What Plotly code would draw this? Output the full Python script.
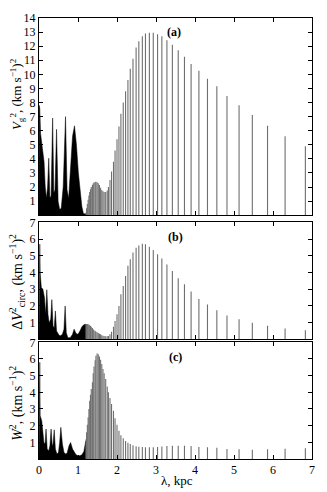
import plotly.graph_objects as go

# wavelengths of the resolved spectral lines, kpc (long to short)
lam_lines = [6.83, 6.31, 5.86, 5.47, 5.13, 4.82, 4.56, 4.32, 4.10, 3.90,
             3.73, 3.57, 3.42, 3.28, 3.15, 3.04, 2.93, 2.83, 2.73, 2.65,
             2.56, 2.49, 2.41, 2.34, 2.28, 2.22, 2.16, 2.10, 2.05, 2.00,
             1.95, 1.91, 1.86, 1.82, 1.78, 1.75, 1.71, 1.67, 1.64, 1.61,
             1.58, 1.55, 1.52, 1.49, 1.46, 1.44, 1.41, 1.39, 1.37, 1.34,
             1.32, 1.30, 1.28, 1.26, 1.24, 1.22, 1.21]

# (a) Vg^2
vg2 = [4.89, 5.61, 6.36, 7.11, 7.81, 8.46, 9.15, 9.69, 10.25, 10.74,
       11.25, 11.72, 12.11, 12.42, 12.70, 12.85, 12.95, 12.95, 12.90, 12.70,
       12.35, 11.90, 11.10, 10.40, 9.60, 8.80, 8.00, 7.20, 6.30, 5.40,
       4.60, 3.80, 3.10, 2.50, 2.00, 1.75, 1.65, 1.65, 1.70, 1.80,
       1.95, 2.15, 2.28, 2.35, 2.38, 2.36, 2.32, 2.25, 2.15, 2.00,
       1.85, 1.65, 1.40, 1.10, 0.80, 0.50, 0.20]
# (b) dV_circ^2
dvc2 = [0.55, 0.65, 0.81, 1.00, 1.20, 1.43, 1.75, 2.08, 2.42, 2.87,
        3.30, 3.66, 4.09, 4.48, 4.84, 5.10, 5.35, 5.55, 5.70, 5.72,
        5.62, 5.48, 5.20, 4.80, 4.40, 3.80, 3.20, 2.70, 2.00, 1.50,
        1.10, 0.75, 0.45, 0.30, 0.20, 0.18, 0.18, 0.20, 0.22, 0.25,
        0.30, 0.33, 0.38, 0.42, 0.45, 0.50, 0.55, 0.60, 0.68, 0.75,
        0.80, 0.85, 0.88, 0.90, 0.92, 0.92, 0.90]
# (c) W^2
w2 = [0.65, 0.62, 0.58, 0.55, 0.58, 0.60, 0.68, 0.70, 0.72, 0.78,
      0.80, 0.80, 0.80, 0.78, 0.75, 0.72, 0.70, 0.70, 0.70, 0.72,
      0.74, 0.76, 0.82, 0.90, 0.98, 1.08, 1.25, 1.42, 1.70, 2.05,
      2.45, 2.90, 3.30, 3.66, 4.00, 4.35, 4.80, 5.15, 5.40, 5.70,
      5.95, 6.15, 6.28, 6.33, 6.20, 5.93, 5.55, 5.15, 4.60, 4.20,
      3.85, 3.50, 3.00, 2.50, 2.05, 1.60, 1.20]

# unresolved short-wavelength part: upper envelope of the dense lines
lam_dense_a = [0, 0.005, 0.02, 0.04, 0.07, 0.10, 0.13, 0.16, 0.19, 0.22, 0.25, 0.28,
               0.31, 0.35, 0.38, 0.41, 0.45, 0.49, 0.53, 0.57, 0.62, 0.68, 0.72,
               0.76, 0.80, 0.86, 0.91, 0.96, 1.01, 1.06, 1.10, 1.14, 1.20, 1.20]
vg2_dense = [0, 7.8, 7.6, 5.8, 5.0, 4.6, 3.8, 2.0, 1.2, 2.0, 4.05, 1.2,
             1.4, 6.9, 1.6, 1.8, 6.1, 1.0, 0.4, 0.5, 2.0, 7.0, 1.8,
             1.2, 3.0, 5.6, 6.35, 5.0, 3.0, 1.5, 0.6, 0.1, 0.1, 0]

lam_dense_b = [0, 0.005, 0.02, 0.03, 0.06, 0.10, 0.14, 0.17, 0.20, 0.23, 0.26, 0.30,
               0.33, 0.36, 0.39, 0.42, 0.45, 0.50, 0.54, 0.60, 0.64, 0.67, 0.70,
               0.74, 0.80, 0.86, 0.90, 0.95, 1.00, 1.05, 1.10, 1.15, 1.20, 1.20]
dvc2_dense = [0, 5.7, 5.7, 4.0, 3.1, 3.0, 2.5, 1.5, 2.97, 1.5, 1.0, 1.2,
              2.38, 0.8, 0.7, 1.7, 0.5, 0.3, 0.2, 0.3, 0.6, 2.0, 0.4,
              0.1, 0.1, 0.3, 0.61, 0.35, 0.3, 0.5, 0.75, 0.88, 0.9, 0]

lam_dense_c = [0, 0.005, 0.02, 0.03, 0.07, 0.10, 0.13, 0.16, 0.18, 0.21, 0.25, 0.28,
               0.31, 0.34, 0.36, 0.39, 0.42, 0.46, 0.50, 0.53, 0.56, 0.60, 0.64,
               0.68, 0.72, 0.77, 0.81, 0.86, 0.90, 0.95, 1.00, 1.05, 1.10, 1.15,
               1.20, 1.20]
w2_dense = [0, 5.8, 5.8, 2.6, 2.3, 1.6, 0.9, 1.0, 1.8, 0.6, 0.5, 0.8,
            1.8, 0.8, 0.9, 1.75, 0.6, 0.3, 0.4, 1.0, 1.9, 0.9, 0.4,
            0.3, 0.35, 0.8, 0.99, 0.6, 0.4, 0.25, 0.2, 0.2, 0.25, 0.45,
            1.1, 0]

SERIF = "Liberation Serif"


def sticks(lams, vals):
    xs, ys = [], []
    for lam, v in zip(lams, vals):
        xs += [lam, lam, None]
        ys += [0, v, None]
    return xs, ys


fig = go.Figure()
panels = [(vg2, lam_dense_a, vg2_dense, "x", "y"),
          (dvc2, lam_dense_b, dvc2_dense, "x2", "y2"),
          (w2, lam_dense_c, w2_dense, "x3", "y3")]
for vals, ld, vd, xa, ya in panels:
    fig.add_trace(go.Scatter(x=ld, y=vd, mode="lines", fill="tozeroy",
                             fillcolor="black", line=dict(color="black", width=0.5),
                             xaxis=xa, yaxis=ya, hoverinfo="skip"))
    xs, ys = sticks(lam_lines, vals)
    fig.add_trace(go.Scatter(x=xs, y=ys, mode="lines",
                             line=dict(color="#6f6f6f", width=1.1),
                             xaxis=xa, yaxis=ya, hoverinfo="skip"))

axis_common = dict(showline=True, linecolor="black", linewidth=1, mirror="ticks",
                   ticks="inside", ticklen=4, tickcolor="black", showgrid=False,
                   zeroline=False, tickfont=dict(family=SERIF, size=12, color="black"))

# page body has an 8px margin, so the figure is 8px smaller than the window
fig.update_layout(
    width=319, height=484,
    margin=dict(l=31, r=15, t=3, b=33),
    paper_bgcolor="white", plot_bgcolor="white",
    showlegend=False,
    font=dict(family=SERIF, size=12, color="black"),
    xaxis=dict(anchor="y", range=[0, 7], tickvals=list(range(8)), showticklabels=False, **axis_common),
    xaxis2=dict(anchor="y2", range=[0, 7], tickvals=list(range(8)), showticklabels=False, matches="x", **axis_common),
    xaxis3=dict(anchor="y3", range=[0, 7], tickvals=list(range(8)), matches="x", **axis_common),
    yaxis=dict(anchor="x", domain=[0.5527, 1], range=[0, 14], tickvals=list(range(1, 15)), **axis_common),
    yaxis2=dict(anchor="x2", domain=[0.2713, 0.5364], range=[0, 7], tickvals=list(range(1, 8)), **axis_common),
    yaxis3=dict(anchor="x3", domain=[0, 0.2646], range=[0, 7], tickvals=list(range(1, 8)), **axis_common),
)

ann = [
    dict(text="<b>(a)</b>", x=3.46, y=13.0, xref="x", yref="y"),
    dict(text="<b>(b)</b>", x=3.5, y=6.12, xref="x2", yref="y2"),
    dict(text="<b>(c)</b>", x=3.5, y=6.12, xref="x3", yref="y3"),
]
for a in ann:
    fig.add_annotation(showarrow=False, font=dict(family=SERIF, size=12), **a)

ytitles = [
    ("<i>V</i><sub>g</sub><sup>2</sup>, (km s<sup>−1</sup>)<sup>2</sup>", 0.8274, 13),
    ("Δ<i>V</i><sup>2</sup><sub>circ</sub>, (km s<sup>−1</sup>)<sup>2</sup>", 0.402, 14),
    ("<i>W</i><sup>2</sup>, (km s<sup>−1</sup>)<sup>2</sup>", 0.1273, 14),
]
for txt, yy, fs in ytitles:
    fig.add_annotation(text=txt, x=-0.0806, y=yy, xref="paper", yref="paper",
                       textangle=-90, showarrow=False, xanchor="center", yanchor="middle",
                       font=dict(family=SERIF, size=fs))

fig.add_annotation(text="λ, kpc", x=0.505, y=-0.048, xref="paper", yref="paper",
                   showarrow=False, xanchor="center", yanchor="middle",
                   font=dict(family=SERIF, size=13))

fig.write_html("out.html")
